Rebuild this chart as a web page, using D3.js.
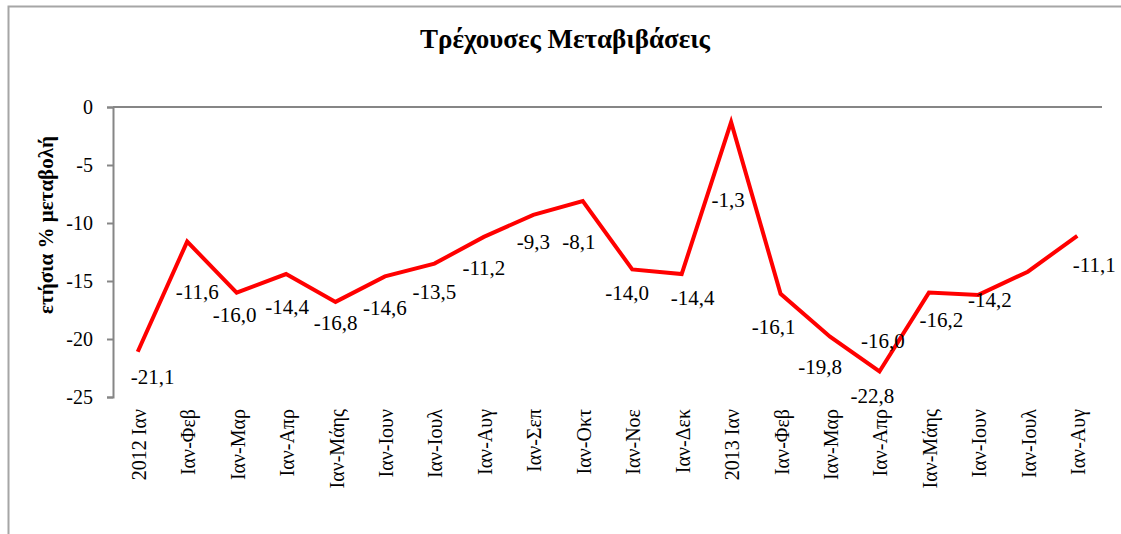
<!DOCTYPE html>
<html>
<head>
<meta charset="utf-8">
<script src="https://cdn.jsdelivr.net/npm/d3@7"></script>
<style>
  body { margin: 0; background: #fff; }
  svg text { font-family: "Liberation Serif", "DejaVu Serif", serif; fill: #000; }
</style>
</head>
<body>
<div id="chart"></div>
<script>
// chart data
var months = ["2012 Ιαν", "Ιαν-Φεβ", "Ιαν-Μαρ", "Ιαν-Απρ", "Ιαν-Μάης", "Ιαν-Ιουν", "Ιαν-Ιουλ",
  "Ιαν-Αυγ", "Ιαν-Σεπ", "Ιαν-Οκτ", "Ιαν-Νοε", "Ιαν-Δεκ", "2013 Ιαν", "Ιαν-Φεβ", "Ιαν-Μαρ",
  "Ιαν-Απρ", "Ιαν-Μάης", "Ιαν-Ιουν", "Ιαν-Ιουλ", "Ιαν-Αυγ"];
var values = [-21.1, -11.6, -16.0, -14.4, -16.8, -14.6, -13.5, -11.2, -9.3, -8.1,
  -14.0, -14.4, -1.3, -16.1, -19.8, -22.8, -16.0, -16.2, -14.2, -11.1];
var yTicks = [0, -5, -10, -15, -20, -25];

// hand placed label offsets (px from the point), like in the original sheet
var labelShift = [[15, 25], [10, 50], [-2, 22], [1, 33], [0, 21], [0, 31], [0, 28],
  [0, 31], [0, 27], [-4, 41], [-5, 23], [11, 24], [-3, 78], [-7, 33], [-10, 30],
  [-7, 24], [-46, 48], [-37, 25], [-38, 28], [17, 29]];

var W = 1121, H = 534;
var plot = {left: 113, right: 1102, top: 107, bottom: 397};

var svg = d3.select("#chart").append("svg")
  .attr("width", W)
  .attr("height", H);

// outer chart frame (runs off the right and bottom edges)
svg.append("rect")
  .attr("x", 8.5).attr("y", 6.5)
  .attr("width", W + 20).attr("height", H + 20)
  .attr("fill", "none")
  .attr("stroke", "#a6a6a6")
  .attr("stroke-width", 2);

svg.append("text")
  .attr("x", 565).attr("y", 48)
  .attr("text-anchor", "middle")
  .style("font-size", "27px")
  .style("font-weight", "bold")
  .text("Τρέχουσες Μεταβιβάσεις");

var x = d3.scaleBand()
  .domain(d3.range(months.length))
  .range([plot.left, plot.right]);

var y = d3.scaleLinear()
  .domain([-25, 0])
  .range([plot.bottom, plot.top]);

function cx(i) { return x(i) + x.bandwidth() / 2; }

// y axis
var yAxis = svg.append("g")
  .attr("transform", "translate(" + plot.left + ",0)")
  .call(d3.axisLeft(y).tickValues(yTicks).tickSize(6).tickPadding(14)
    .tickFormat(function(d) { return d; }));
yAxis.select(".domain").attr("stroke", "#868686").attr("stroke-width", 2);
yAxis.selectAll(".tick line").attr("stroke", "#868686").attr("stroke-width", 2);
yAxis.selectAll(".tick text")
  .style("font-size", "20px")
  .style("font-family", "Liberation Serif, serif");

// x axis line sits at zero (top of plot)
svg.append("line")
  .attr("x1", plot.left).attr("x2", plot.right)
  .attr("y1", y(0)).attr("y2", y(0))
  .attr("stroke", "#868686")
  .attr("stroke-width", 2);

// category labels, rotated, at the bottom
svg.append("g").selectAll("text")
  .data(months)
  .enter().append("text")
  .attr("transform", function(d, i) {
    return "translate(" + (cx(i) + 1) + "," + (plot.bottom + 12) + ") rotate(-90)";
  })
  .attr("text-anchor", "end")
  .attr("dy", "0.35em")
  .style("font-size", "20px")
  .text(function(d) { return d; });

// y axis title
svg.append("text")
  .attr("transform", "translate(46,225) rotate(-90)")
  .attr("text-anchor", "middle")
  .attr("dy", "0.35em")
  .style("font-size", "21px")
  .style("font-weight", "bold")
  .text("ετήσια % μεταβολή");

// the line
var line = d3.line()
  .x(function(d, i) { return cx(i); })
  .y(function(d) { return y(d); });

svg.append("path")
  .datum(values)
  .attr("d", line)
  .attr("fill", "none")
  .attr("stroke", "#ff0000")
  .attr("stroke-width", 4)
  .attr("stroke-linejoin", "miter");

// data labels
svg.append("g").selectAll("text")
  .data(values)
  .enter().append("text")
  .attr("x", function(d, i) { return cx(i) + labelShift[i][0]; })
  .attr("y", function(d, i) { return y(d) + labelShift[i][1]; })
  .attr("text-anchor", "middle")
  .attr("dy", "0.35em")
  .style("font-size", "21px")
  .text(function(d) { return d.toFixed(1).replace(".", ","); });
</script>
</body>
</html>
